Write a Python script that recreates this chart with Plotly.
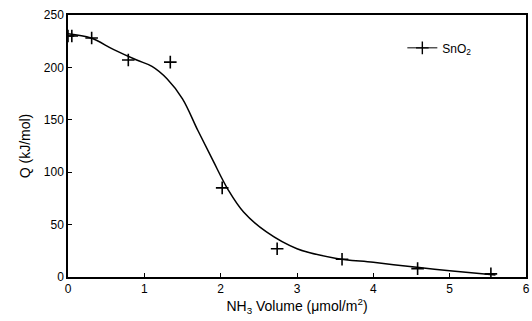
import plotly.graph_objects as go

# measured points
pts_x = [0.0, 0.05, 0.31, 0.79, 1.34, 2.02, 2.74, 3.59, 4.58, 5.54]
pts_y = [230, 230, 228, 207, 205, 85, 27, 17, 8, 3]

# fitted curve
fit_x = [0.0, 0.3, 0.6, 0.9, 1.1, 1.3, 1.5, 1.7, 1.9, 2.1, 2.3, 2.6, 3.0, 3.5, 4.0, 4.6, 5.0, 5.6]
fit_y = [232, 228, 217, 207, 201, 189, 170, 140, 111, 83, 62, 43, 27, 18, 14, 9, 6, 2]

x_ticks = [0, 1, 2, 3, 4, 5, 6]
y_ticks = [0, 50, 100, 150, 200, 250]

font = dict(family="Liberation Sans, Arial, sans-serif", size=12, color="black")

fig = go.Figure()
fig.add_trace(go.Scatter(x=fit_x, y=fit_y, mode="lines", line=dict(color="black", width=1.5, shape="spline", smoothing=1.0),
                         showlegend=False, hoverinfo="skip"))
fig.add_trace(go.Scatter(x=pts_x, y=pts_y, mode="markers",
                         marker=dict(symbol="cross-thin", size=9, line=dict(color="black", width=1.6)),
                         showlegend=False))
fig.add_trace(go.Scatter(x=[None], y=[None], mode="lines+markers", name="SnO<sub>2</sub>",
                         line=dict(color="black", width=1),
                         marker=dict(symbol="cross-thin", size=9, line=dict(color="black", width=1.4))))

axis_common = dict(showline=True, linecolor="black", linewidth=1.5, mirror=True, ticks="inside", ticklen=4,
                   tickcolor="black", showgrid=False, zeroline=False, tickfont=font)

fig.update_layout(
    width=532, height=321,
    margin=dict(l=68, r=2, t=15, b=44),
    paper_bgcolor="white", plot_bgcolor="white",
    font=font,
    xaxis=dict(range=[0, 6], tickvals=x_ticks, title=dict(text="NH<sub>3</sub> Volume (μmol/m<sup>2</sup>)", font=dict(size=14), standoff=4), **axis_common),
    yaxis=dict(range=[0, 250], tickvals=y_ticks, title=dict(text="Q (kJ/mol)", font=dict(size=14), standoff=10), **axis_common),
    legend=dict(x=0.73, y=0.93, xanchor="left", yanchor="top", bgcolor="rgba(0,0,0,0)", font=dict(size=12)),
)

fig.write_html("out.html")
